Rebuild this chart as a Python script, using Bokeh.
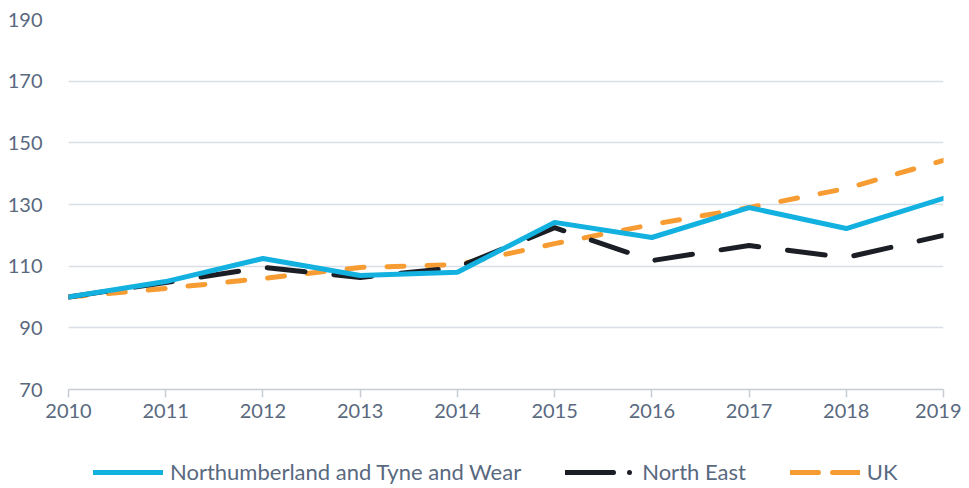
from bokeh.plotting import figure
from bokeh.models import Legend, LegendItem, FixedTicker, Range1d
from bokeh.layouts import column
from bokeh.embed import file_html
from bokeh.resources import INLINE

years = [2010, 2011, 2012, 2013, 2014, 2015, 2016, 2017, 2018, 2019]
northumberland = [100, 105, 112.5, 107, 108, 124.2, 119.3, 129, 122.2, 132]
north_east = [100, 104.7, 109.6, 106.3, 109.6, 122.5, 111.8, 116.7, 112.8, 120]
uk = [100, 102.8, 106, 109.6, 110.5, 117.3, 123.5, 129, 135.2, 144.3]
y_ticks = [70, 90, 110, 130, 150, 170, 190]
series_names = ["Northumberland and Tyne and Wear", "North East", "UK"]

FONT = "Lato"
TXT = "#596980"
C_NT, C_NE, C_UK = "#12b1e0", "#1b1e24", "#f79c32"
D_NE, D_UK = "38 29", "17 23"

p = figure(width=961, height=440,
           x_range=Range1d(2010, 2019), y_range=Range1d(70, 190),
           output_backend="svg", toolbar_location=None,
           min_border_left=68, min_border_right=18, min_border_top=19,
           min_border_bottom=51)
p.outline_line_color = None

p.xgrid.grid_line_color = None
p.ygrid.grid_line_color = "#d9dde6"
p.ygrid.grid_line_width = 1.5
p.ygrid.ticker = FixedTicker(ticks=y_ticks)

p.yaxis.ticker = FixedTicker(ticks=y_ticks)
p.yaxis.axis_line_color = None
p.yaxis.major_tick_line_color = None
p.yaxis.minor_tick_line_color = None
p.yaxis.major_label_standoff = 20
p.yaxis.major_label_text_font = FONT
p.yaxis.major_label_text_font_size = "20px"
p.yaxis.major_label_text_color = TXT

p.xaxis.ticker = FixedTicker(ticks=years)
p.xaxis.axis_line_color = "#c8ccd4"
p.xaxis.axis_line_width = 1.5
p.xaxis.major_tick_line_color = "#c8ccd4"
p.xaxis.major_tick_line_width = 1.5
p.xaxis.major_tick_out = 8
p.xaxis.major_tick_in = 0
p.xaxis.minor_tick_line_color = None
p.xaxis.major_label_standoff = 6
p.xaxis.major_label_text_font = FONT
p.xaxis.major_label_text_font_size = "20px"
p.xaxis.major_label_text_color = TXT

p.line(years, uk, line_color=C_UK, line_width=5, line_dash=D_UK, line_cap="round")
p.line(years, north_east, line_color=C_NE, line_width=5, line_dash=D_NE, line_cap="round")
p.line(years, northumberland, line_color=C_NT, line_width=5, line_cap="round")

# legend strip (series drawn off-range, only their legend glyphs show)
q = figure(width=961, height=48, output_backend="svg", toolbar_location=None,
           min_border=0, x_axis_type=None, y_axis_type=None,
           x_range=Range1d(0, 1), y_range=Range1d(0, 1))
q.grid.visible = False
q.outline_line_color = None
l_nt = q.line(years, northumberland, line_color=C_NT, line_width=5, line_cap="round")
l_ne = q.line(years, north_east, line_color=C_NE, line_width=5,
              line_dash="48 16 0 20", line_cap="round")
l_uk = q.line(years, uk, line_color=C_UK, line_width=5, line_dash="28 14", line_cap="round")

legend = Legend(items=[
    LegendItem(label=series_names[0], renderers=[l_nt]),
    LegendItem(label=series_names[1], renderers=[l_ne]),
    LegendItem(label=series_names[2], renderers=[l_uk]),
], orientation="horizontal", location=(25, 3))
legend.label_text_font = FONT
legend.label_text_font_size = "22px"
legend.label_text_color = TXT
legend.glyph_width = 70
legend.label_standoff = 7
legend.spacing = 44
legend.border_line_color = None
legend.background_fill_alpha = 0
legend.margin = 0
legend.padding = 2
q.add_layout(legend, "center")

open("out.html", "w").write(file_html(column(p, q, spacing=0), INLINE))
